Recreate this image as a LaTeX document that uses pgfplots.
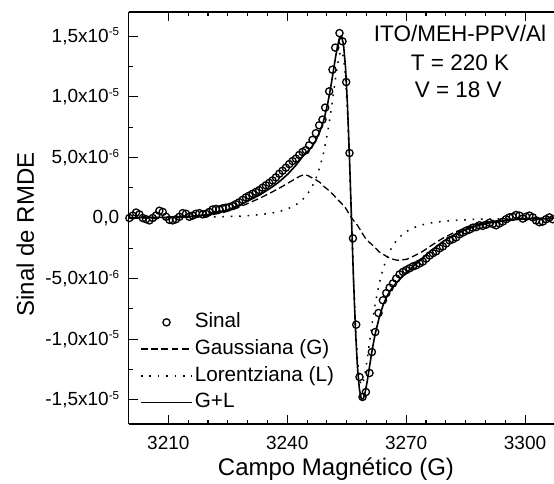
\documentclass[border=0pt]{standalone}
\usepackage{fontspec}
\setmainfont{Liberation Sans}
\usepackage{pgfplots}
\pgfplotsset{compat=1.18}
\usepackage{pgfplotstable}

\newcommand{\sci}[2]{#1x10\raisebox{6.3pt}{\fontsize{11.6}{12}\selectfont #2}}

\pgfplotstableread{
x y
3200.18 0.0
3201.02 0.2e-6
3201.86 0.45e-6
3202.70 0.3e-6
3203.54 0.0
3204.38 -0.1e-6
3205.22 -0.2e-6
3206.06 0.0
3206.90 0.2e-6
3207.74 0.6e-6
3208.58 0.5e-6
3209.42 0.1e-6
3210.26 -0.15e-6
3211.10 -0.2e-6
3211.94 -0.1e-6
3212.78 0.1e-6
3213.62 0.4e-6
3214.46 0.35e-6
3215.30 0.1e-6
3216.14 0.2e-6
3216.98 0.35e-6
3217.82 0.4e-6
3218.66 0.3e-6
3219.50 0.35e-6
3220.34 0.5e-6
3221.18 0.7e-6
3222.02 0.75e-6
3222.86 0.7e-6
3223.70 0.8e-6
3224.54 0.85e-6
3225.38 0.9e-6
3226.22 1.0e-6
3227.06 1.15e-6
3227.90 1.3e-6
3228.74 1.5e-6
3229.58 1.7e-6
3230.42 1.85e-6
3231.26 2.0e-6
3232.10 2.15e-6
3232.94 2.3e-6
3233.78 2.5e-6
3234.62 2.7e-6
3235.46 2.9e-6
3236.30 3.1e-6
3237.14 3.35e-6
3237.98 3.65e-6
3238.82 3.9e-6
3239.66 4.15e-6
3240.50 4.45e-6
3241.34 4.7e-6
3242.18 4.9e-6
3243.02 5.2e-6
3243.86 5.45e-6
3244.70 5.6e-6
3245.54 6.0e-6
3246.38 6.45e-6
3247.22 7.0e-6
3248.06 7.65e-6
3248.89 8.12e-6
3249.57 9.11e-6
3250.58 10.45e-6
3251.41 12.24e-6
3252.10 14.06e-6
3253.18 15.26e-6
3253.94 14.58e-6
3254.87 11.22e-6
3255.71 5.36e-6
3256.57 -1.68e-6
3257.40 -8.80e-6
3258.23 -13.12e-6
3258.99 -14.77e-6
3259.85 -14.36e-6
3260.76 -12.79e-6
3261.36 -11.06e-6
3262.20 -9.41e-6
3263.03 -7.84e-6
3264.14 -6.79e-6
3264.98 -6.2e-6
3265.82 -5.75e-6
3266.66 -5.4e-6
3267.50 -5.0e-6
3268.34 -4.65e-6
3269.18 -4.45e-6
3270.02 -4.3e-6
3270.86 -4.15e-6
3271.70 -4.0e-6
3272.54 -3.9e-6
3273.38 -3.75e-6
3274.22 -3.6e-6
3275.06 -3.35e-6
3275.90 -3.1e-6
3276.74 -2.9e-6
3277.58 -2.75e-6
3278.42 -2.5e-6
3279.26 -2.35e-6
3280.10 -2.1e-6
3280.94 -1.85e-6
3281.78 -1.75e-6
3282.62 -1.6e-6
3283.46 -1.35e-6
3284.30 -1.2e-6
3285.14 -1.05e-6
3285.98 -0.95e-6
3286.82 -0.8e-6
3287.66 -0.75e-6
3288.50 -0.6e-6
3289.34 -0.65e-6
3290.18 -0.55e-6
3291.02 -0.4e-6
3291.86 -0.5e-6
3292.70 -0.6e-6
3293.54 -0.45e-6
3294.38 -0.3e-6
3295.22 -0.1e-6
3296.06 0.05e-6
3296.90 0.1e-6
3297.74 0.25e-6
3298.58 0.2e-6
3299.42 -0.05e-6
3300.26 0.1e-6
3301.10 0.2e-6
3301.94 0.05e-6
3302.78 -0.2e-6
3303.62 -0.35e-6
3304.46 -0.3e-6
3305.30 -0.1e-6
3306.14 0.05e-6
3306.98 -0.1e-6
}\datatable

\pgfplotstableread{
x G L S
3198.2 0 0.018e-6 0.02e-6
3206.2 0.01e-6 0.029e-6 0.04e-6
3212.2 0.03e-6 0.042e-6 0.07e-6
3216.2 0.09e-6 0.055e-6 0.15e-6
3220.2 0.21e-6 0.076e-6 0.29e-6
3224.2 0.48e-6 0.106e-6 0.59e-6
3227.2 0.8e-6 0.142e-6 0.94e-6
3230.2 1.22e-6 0.195e-6 1.42e-6
3233.2 1.65e-6 0.277e-6 1.93e-6
3236.2 2.15e-6 0.412e-6 2.56e-6
3238.2 2.5e-6 0.552e-6 3.05e-6
3240.2 2.88e-6 0.764e-6 3.64e-6
3242.2 3.27e-6 1.092e-6 4.36e-6
3243.2 3.45e-6 1.326e-6 4.78e-6
3244.2 3.57e-6 1.628e-6 5.20e-6
3245.2 3.5e-6 2.021e-6 5.52e-6
3246.2 3.32e-6 2.542e-6 5.86e-6
3247.2 3.15e-6 3.234e-6 6.38e-6
3248.2 2.95e-6 4.169e-6 7.12e-6
3249.2 2.62e-6 5.423e-6 8.04e-6
3250.2 2.35e-6 7.085e-6 9.44e-6
3250.7 2.2e-6 8.09e-6 10.29e-6
3251.2 2.05e-6 9.201e-6 11.25e-6
3251.7 1.9e-6 10.383e-6 12.28e-6
3252.2 1.7e-6 11.59e-6 13.29e-6
3252.7 1.53e-6 12.665e-6 14.20e-6
3253.2 1.37e-6 13.507e-6 14.88e-6
3253.7 1.2e-6 13.796e-6 15.00e-6
3254.2 1.03e-6 13.269e-6 14.30e-6
3254.7 0.83e-6 11.632e-6 12.46e-6
3255.2 0.56e-6 8.734e-6 9.29e-6
3255.7 0.28e-6 4.705e-6 4.99e-6
3256.2 0.03e-6 0 0.03e-6
3256.7 -0.2e-6 -4.705e-6 -4.91e-6
3257.2 -0.4e-6 -8.734e-6 -9.13e-6
3257.7 -0.6e-6 -11.632e-6 -12.23e-6
3258.2 -0.85e-6 -13.269e-6 -14.12e-6
3258.7 -1.15e-6 -13.796e-6 -14.95e-6
3259.2 -1.4e-6 -13.507e-6 -14.91e-6
3259.7 -1.65e-6 -12.665e-6 -14.32e-6
3260.2 -1.85e-6 -11.59e-6 -13.44e-6
3260.7 -2.0e-6 -10.383e-6 -12.38e-6
3261.2 -2.15e-6 -9.201e-6 -11.35e-6
3261.7 -2.3e-6 -8.09e-6 -10.39e-6
3262.2 -2.45e-6 -7.085e-6 -9.54e-6
3263.2 -2.8e-6 -5.423e-6 -8.22e-6
3264.2 -3.0e-6 -4.169e-6 -7.17e-6
3265.2 -3.2e-6 -3.234e-6 -6.43e-6
3266.2 -3.35e-6 -2.542e-6 -5.89e-6
3267.2 -3.45e-6 -2.021e-6 -5.47e-6
3268.2 -3.5e-6 -1.628e-6 -5.13e-6
3269.2 -3.45e-6 -1.326e-6 -4.78e-6
3270.2 -3.4e-6 -1.092e-6 -4.49e-6
3272.2 -3.1e-6 -0.764e-6 -3.86e-6
3274.2 -2.75e-6 -0.552e-6 -3.30e-6
3276.2 -2.3e-6 -0.412e-6 -2.71e-6
3279.2 -1.68e-6 -0.277e-6 -1.96e-6
3282.2 -1.18e-6 -0.195e-6 -1.38e-6
3285.2 -0.8e-6 -0.142e-6 -0.94e-6
3288.2 -0.5e-6 -0.106e-6 -0.61e-6
3292.2 -0.25e-6 -0.076e-6 -0.33e-6
3296.2 -0.1e-6 -0.055e-6 -0.16e-6
3300.2 -0.04e-6 -0.042e-6 -0.08e-6
3306.2 -0.01e-6 -0.029e-6 -0.04e-6
3312.2 0 -0.018e-6 -0.02e-6
}\fittable

\begin{document}
\begin{tikzpicture}
\begin{axis}[
  name=ax,
  scale only axis,
  width=425.3pt, height=412pt,
  xmin=3200, xmax=3307.3,
  ymin=-1.7e-5, ymax=1.7e-5,
  scaled y ticks=false, scaled x ticks=false,
  axis x line=box, axis y line=left,
  axis line style={-, line width=1.4pt},
  xtick={3210,3240,3270,3300},
  xticklabels={3210,3240,3270,3300},
  minor x tick num=5,
  ytick={-1.5e-5,-1e-5,-5e-6,0,5e-6,1e-5,1.5e-5},
  yticklabels={{\sci{-1,5}{-5}},{\sci{-1,0}{-5}},{\sci{-5,0}{-6}},{0,0},{\sci{5,0}{-6}},{\sci{1,0}{-5}},{\sci{1,5}{-5}}},
  minor y tick num=1,
  tick align=inside,
  major tick length=9pt, minor tick length=4pt,
  every tick/.style={black, line width=1.1pt},
  tick label style={font=\fontsize{19}{22}\selectfont},
  xticklabel style={inner sep=0pt, anchor=north, yshift=-12pt},
  yticklabel style={inner sep=0pt, anchor=east, xshift=-9.4pt},
  xlabel={Campo Magnético (G)},
  ylabel={Sinal de RMDE},
  every axis x label/.style={at={(axis description cs:0.4874,-0.1238)}, anchor=base, font=\fontsize{24}{28}\selectfont},
  every axis y label/.style={at={(axis description cs:-0.2227,0.4599)}, anchor=base, rotate=90, font=\fontsize{24}{28}\selectfont},
  legend style={draw=none, fill=none, at={(axis description cs:0.0266,0.2757)}, anchor=north west,
    font=\fontsize{20.7}{24}\selectfont, row sep=3.2pt, inner sep=0pt,
    nodes={inner sep=2pt, text height=15pt, text depth=4.5pt}},
  legend cell align=left,
  legend image code/.code={\draw[mark repeat=2,mark phase=2,#1] plot coordinates {(0pt,0pt) (25.5pt,0pt) (51pt,0pt)};},
]
\addplot[only marks, mark=o, mark size=3.6pt, mark options={line width=1.3pt, black}] table[x=x,y=y] {\datatable};
\addlegendentry{Sinal}
\addplot[black, line width=1.3pt, dash pattern=on 6.8pt off 3.4pt] table[x=x,y=G] {\fittable};
\addlegendentry{Gaussiana (G)}
\addplot[black, line width=1.5pt, dash pattern=on 1.6pt off 6.8pt] table[x=x,y=L] {\fittable};
\addlegendentry{Lorentziana (L)}
\addplot[black, line width=1.6pt] table[x=x,y=S] {\fittable};
\addlegendentry{G+L}
\node[font=\fontsize{22.5}{27}\selectfont, anchor=base] at (axis description cs:0.779,0.928) {ITO/MEH-PPV/Al};
\node[font=\fontsize{22.5}{27}\selectfont, anchor=base] at (axis description cs:0.779,0.8592) {T = 220 K};
\node[font=\fontsize{22.5}{27}\selectfont, anchor=base] at (axis description cs:0.775,0.793) {V = 18 V};
\end{axis}
\pgfresetboundingbox
\path ([shift={(-128.7pt,-60pt)}]ax.south west) rectangle ([shift={(0pt,12pt)}]ax.north east);
\end{tikzpicture}
\end{document}
